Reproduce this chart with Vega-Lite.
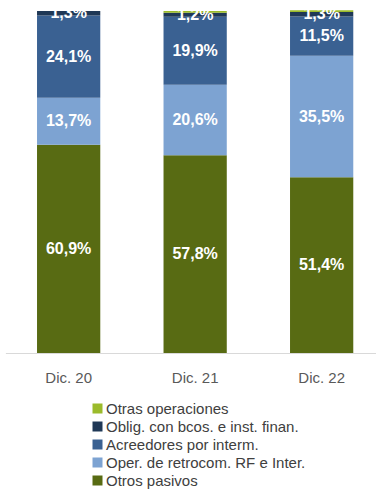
{
  "$schema": "https://vega.github.io/schema/vega-lite/v6.json",
  "width": 376,
  "height": 342,
  "autosize": "none",
  "padding": {"left": 0, "top": 11, "right": 0, "bottom": 144},
  "background": "white",
  "config": {
    "locale": {"number": {"decimal": ",", "thousands": ".", "grouping": [3], "currency": ["", " €"]}},
    "view": {"stroke": null},
    "font": "Liberation Sans"
  },
  "data": {
    "values": [
      {"periodo": "Dic. 20", "serie": "Otros pasivos", "ord": 1, "v": 0.609},
      {"periodo": "Dic. 20", "serie": "Oper. de retrocom. RF e Inter.", "ord": 2, "v": 0.137},
      {"periodo": "Dic. 20", "serie": "Acreedores por interm.", "ord": 3, "v": 0.241},
      {"periodo": "Dic. 20", "serie": "Oblig. con bcos. e inst. finan.", "ord": 4, "v": 0.013},
      {"periodo": "Dic. 20", "serie": "Otras operaciones", "ord": 5, "v": 0.0},
      {"periodo": "Dic. 21", "serie": "Otros pasivos", "ord": 1, "v": 0.578},
      {"periodo": "Dic. 21", "serie": "Oper. de retrocom. RF e Inter.", "ord": 2, "v": 0.206},
      {"periodo": "Dic. 21", "serie": "Acreedores por interm.", "ord": 3, "v": 0.199},
      {"periodo": "Dic. 21", "serie": "Oblig. con bcos. e inst. finan.", "ord": 4, "v": 0.012},
      {"periodo": "Dic. 21", "serie": "Otras operaciones", "ord": 5, "v": 0.005},
      {"periodo": "Dic. 22", "serie": "Otros pasivos", "ord": 1, "v": 0.514},
      {"periodo": "Dic. 22", "serie": "Oper. de retrocom. RF e Inter.", "ord": 2, "v": 0.355},
      {"periodo": "Dic. 22", "serie": "Acreedores por interm.", "ord": 3, "v": 0.115},
      {"periodo": "Dic. 22", "serie": "Oblig. con bcos. e inst. finan.", "ord": 4, "v": 0.013},
      {"periodo": "Dic. 22", "serie": "Otras operaciones", "ord": 5, "v": 0.005}
    ]
  },
  "encoding": {
    "x": {
      "field": "periodo",
      "type": "nominal",
      "sort": null,
      "scale": {"range": [5.4, 384.9], "paddingInner": 0.5, "paddingOuter": 0.25},
      "axis": {
        "title": null,
        "domainColor": "#d9d9d9",
        "domainWidth": 1,
        "ticks": false,
        "labelAngle": 0,
        "labelFontSize": 15,
        "labelColor": "#595959",
        "labelPadding": 17
      }
    }
  },
  "layer": [
    {
      "mark": {"type": "bar"},
      "encoding": {
        "y": {"field": "v", "type": "quantitative", "stack": "zero", "scale": {"domain": [0, 1]}, "axis": null},
        "color": {
          "field": "serie",
          "type": "nominal",
          "scale": {
            "domain": ["Otras operaciones", "Oblig. con bcos. e inst. finan.", "Acreedores por interm.", "Oper. de retrocom. RF e Inter.", "Otros pasivos"],
            "range": ["#9bbb2b", "#1f3856", "#3a6192", "#7da3d2", "#586b13"]
          },
          "legend": {
            "orient": "none",
            "legendX": 90,
            "legendY": 390,
            "title": null,
            "padding": 0,
            "symbolType": "square",
            "symbolSize": 100,
            "symbolStrokeWidth": 0,
            "symbolOpacity": 1,
            "labelFontSize": 15,
            "labelLimit": 0,
            "labelColor": "#404040",
            "rowPadding": 2,
            "labelOffset": 1
          }
        },
        "order": {"field": "ord", "type": "quantitative"}
      }
    },
    {
      "transform": [{"filter": "datum.v >= 0.01"}],
      "mark": {"type": "text", "color": "white", "fontWeight": "bold", "fontSize": 16, "baseline": "middle"},
      "encoding": {
        "y": {"field": "v", "type": "quantitative", "stack": "zero", "bandPosition": 0.5},
        "detail": {"field": "serie", "type": "nominal"},
        "order": {"field": "ord", "type": "quantitative"},
        "text": {"field": "v", "type": "quantitative", "format": ".1%"}
      }
    }
  ]
}
